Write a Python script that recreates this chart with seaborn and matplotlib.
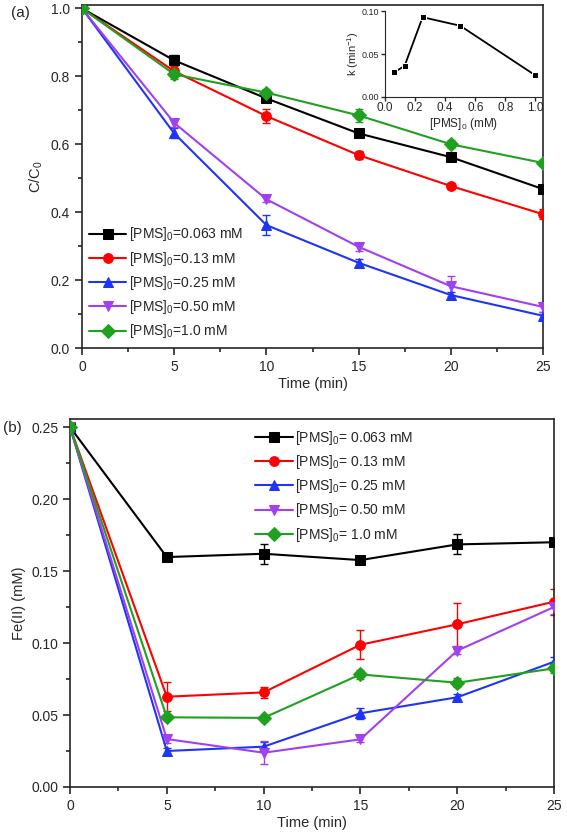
import numpy as np
import pandas as pd
import seaborn as sns
import matplotlib.pyplot as plt
from matplotlib.ticker import MultipleLocator

sns.set_style("ticks")
plt.rcParams['font.family'] = ['Liberation Sans', 'DejaVu Sans']
plt.rcParams['mathtext.fontset'] = 'custom'
plt.rcParams['mathtext.rm'] = 'Liberation Sans'

time = [0, 5, 10, 15, 20, 25]
conc = ["0.063", "0.13", "0.25", "0.50", "1.0"]
colors = ["#000000", "#FF0000", "#1F35F5", "#A040F0", "#20A020"]
markers = ["s", "o", "^", "v", "D"]

# panel (a): C/C0
c_063 = [1.0, 0.847, 0.735, 0.632, 0.562, 0.468]
c_013 = [1.0, 0.815, 0.683, 0.568, 0.477, 0.394]
c_025 = [1.0, 0.632, 0.362, 0.251, 0.156, 0.095]
c_050 = [1.0, 0.663, 0.438, 0.298, 0.182, 0.121]
c_100 = [1.0, 0.806, 0.752, 0.685, 0.600, 0.545]
e_063 = [0, 0.015, 0.01, 0.005, 0.01, 0.008]
e_013 = [0, 0.015, 0.02, 0.012, 0.008, 0.015]
e_025 = [0, 0.015, 0.03, 0.01, 0.01, 0.01]
e_050 = [0, 0.012, 0.008, 0.012, 0.03, 0.015]
e_100 = [0, 0.015, 0.01, 0.02, 0.012, 0.01]

# inset: rate constants
pms = [0.063, 0.13, 0.25, 0.50, 1.0]
k_obs = [0.029, 0.036, 0.093, 0.083, 0.025]

# panel (b): Fe(II)
f_063 = [0.25, 0.1597, 0.162, 0.1576, 0.1685, 0.170]
f_013 = [0.25, 0.0627, 0.0657, 0.0988, 0.113, 0.1287]
f_025 = [0.25, 0.025, 0.028, 0.0512, 0.0623, 0.087]
f_050 = [0.25, 0.0333, 0.0238, 0.0331, 0.0947, 0.125]
f_100 = [0.25, 0.0484, 0.048, 0.0782, 0.0724, 0.0824]
g_063 = [0.002, 0.002, 0.007, 0.002, 0.007, 0.002]
g_013 = [0.002, 0.010, 0.004, 0.010, 0.015, 0.009]
g_025 = [0.002, 0.002, 0.003, 0.004, 0.002, 0.003]
g_050 = [0.002, 0.003, 0.008, 0.002, 0.002, 0.005]
g_100 = [0.002, 0.002, 0.002, 0.003, 0.003, 0.003]

series_a = [c_063, c_013, c_025, c_050, c_100]
errs_a = [e_063, e_013, e_025, e_050, e_100]
series_b = [f_063, f_013, f_025, f_050, f_100]
errs_b = [g_063, g_013, g_025, g_050, g_100]

fig = plt.figure(figsize=(5.67, 8.35), dpi=100)
ax1 = fig.add_axes([0.1446, 0.5832, 0.8131, 0.4108])
ax2 = fig.add_axes([0.1235, 0.0575, 0.8536, 0.4407])


def draw(ax, series, errs, fmt):
    for vals, err, c, m, cc in zip(series, errs, colors, markers, conc):
        ax.errorbar(time, vals, yerr=err, fmt='none', ecolor=c, capsize=3,
                    elinewidth=1, capthick=1, zorder=2)
        sns.lineplot(x=time, y=vals, ax=ax, color=c, marker=m, markersize=7,
                     markeredgecolor=c, linewidth=1.5, label=fmt.format(cc),
                     zorder=3)


draw(ax1, series_a, errs_a, "[PMS]$_0$={} mM")
draw(ax2, series_b, errs_b, "[PMS]$_0$= {} mM")

for ax in (ax1, ax2):
    ax.set_xlim(0, 25)
    ax.xaxis.set_major_locator(MultipleLocator(5))
    ax.xaxis.set_minor_locator(MultipleLocator(2.5))
    ax.tick_params(which='both', direction='out', width=1.2, labelsize=10)
    ax.tick_params(which='major', length=5)
    ax.tick_params(which='minor', length=3)
    for s in ax.spines.values():
        s.set_linewidth(1.2)
    ax.set_xlabel("Time (min)", fontsize=10.5, labelpad=2)

ax1.set_ylim(0, 1.01)
ax1.yaxis.set_major_locator(MultipleLocator(0.2))
ax1.yaxis.set_minor_locator(MultipleLocator(0.1))
ax1.set_yticks([0, 0.2, 0.4, 0.6, 0.8, 1.0])
ax1.set_yticklabels(["0.0", "0.2", "0.4", "0.6", "0.8", "1.0"])
ax1.set_ylabel("C/C$_0$", fontsize=10.5)
ax1.legend(loc='lower left', bbox_to_anchor=(0.0, 0.002), frameon=False,
           fontsize=10, handlelength=2.7, handletextpad=0.2, labelspacing=0.45,
           borderaxespad=0.1)

ax2.set_ylim(0, 0.2556)
ax2.yaxis.set_major_locator(MultipleLocator(0.05))
ax2.yaxis.set_minor_locator(MultipleLocator(0.025))
ax2.set_yticks([0, 0.05, 0.10, 0.15, 0.20, 0.25])
ax2.set_yticklabels(["0.00", "0.05", "0.10", "0.15", "0.20", "0.25"])
ax2.set_ylabel("Fe(II) (mM)", fontsize=10.5)
ax2.legend(loc='upper right', bbox_to_anchor=(0.73, 1.0), frameon=False,
           fontsize=10, handlelength=2.7, handletextpad=0.2, labelspacing=0.45,
           borderaxespad=0.3)

fig.text(0.02, 0.984, "(a)", fontsize=11, va='center')
fig.text(0.005, 0.488, "(b)", fontsize=11, va='center')

# inset
axi = fig.add_axes([0.679, 0.884, 0.276, 0.1026])
sns.lineplot(x=pms, y=k_obs, ax=axi, color='black', marker='s', markersize=4,
             linewidth=1.3)
axi.set_xlim(0, 1.04)
axi.set_ylim(0, 0.10)
axi.set_xticks([0.0, 0.2, 0.4, 0.6, 0.8, 1.0])
axi.set_xticklabels(["0.0", "0.2", "0.4", "0.6", "0.8", "1.0"])
axi.set_yticks([0.0, 0.05, 0.10])
axi.set_yticklabels(["0.00", "0.05", "0.10"])
axi.tick_params(direction='out', labelsize=8.5, length=3, width=1, pad=1)
axi.tick_params(axis='y', labelsize=6.5)
axi.set_xlabel("[PMS]$_0$ (mM)", fontsize=8.5, labelpad=1)
axi.set_ylabel("k (min$^{-1}$)", fontsize=8, labelpad=1)
axi.patch.set_alpha(0)
sns.despine(ax=axi)

fig.savefig("out.png", dpi=100)
